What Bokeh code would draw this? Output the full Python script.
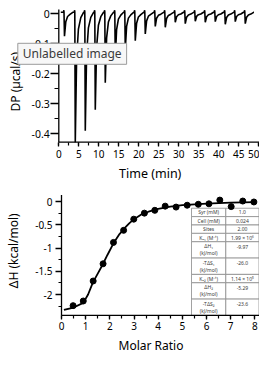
import math
import numpy as np
from bokeh.plotting import figure
from bokeh.layouts import column
from bokeh.models import Range1d, FixedTicker, Label, ColumnDataSource
from bokeh.core.properties import value
from bokeh.embed import file_html
from bokeh.resources import INLINE

# ---------------- data: raw thermogram (top panel) ----------------
inj_time = [1.3, 4.0, 6.5, 9.0, 11.5, 14.0, 16.5, 19.0, 21.5, 24.0,
            26.5, 29.0, 31.5, 34.0, 36.5, 39.0, 41.5, 44.0, 46.5]
inj_depth = [-0.075, -0.428, -0.39, -0.32, -0.23, -0.15, -0.12, -0.09, -0.067, -0.042,
             -0.045, -0.028, -0.033, -0.025, -0.028, -0.026, -0.035, -0.026, -0.033]
trace_start = 0.5
trace_end = 48.8
baseline = 0.005

top_xticks = [0, 5, 10, 15, 20, 25, 30, 35, 40, 45, 50]
top_yticks = [0, -0.1, -0.2, -0.3, -0.4]
top_ylabels = ["0", "-0.1", "-0.2", "-0.3", "-0.4"]

# ---------------- data: integrated heats (bottom panel) ----------------
molar_ratio = [0.48, 0.90, 1.31, 1.72, 2.15, 2.57, 2.99, 3.43, 3.86, 4.29,
               4.74, 5.20, 5.66, 6.10, 6.55, 7.02, 7.50, 7.96]
delta_h = [-2.24, -2.14, -1.71, -1.34, -0.88, -0.62, -0.38, -0.25, -0.19, -0.10,
           -0.12, -0.08, -0.06, -0.05, 0.03, -0.11, 0.01, -0.01]
fit_x = [0.1, 0.5, 0.9, 1.1, 1.3, 1.5, 1.7, 1.9, 2.15, 2.4, 2.6, 2.8, 3.0,
         3.3, 3.6, 4.0, 4.5, 5.0, 5.5, 6.0, 7.0, 8.0]
fit_y = [-2.33, -2.28, -2.18, -2.0, -1.74, -1.55, -1.36, -1.15, -0.9, -0.7, -0.58, -0.47, -0.38,
         -0.28, -0.22, -0.16, -0.11, -0.08, -0.06, -0.045, -0.025, -0.015]

bot_xticks = [0, 1, 2, 3, 4, 5, 6, 7, 8]
bot_yticks = [0, -0.5, -1, -1.5, -2]
bot_ylabels = ["0", "-0.5", "-1", "-1.5", "-2"]

table_params = ["Syr (mM)", "Cell (mM)", "Sites", "K\u2090\u2081 (M\u207b\u00b9)",
                "\u0394H\u2081\n(kJ/mol)", "-T\u0394S\u2081\n(kJ/mol)",
                "K\u2090\u2082 (M\u207b\u00b9)", "\u0394H\u2082\n(kJ/mol)", "-T\u0394S\u2082\n(kJ/mol)"]
table_values = ["1.0", "0.024", "2.00", "1.99 \u00d7 10\u2076", "-9.97", "-26.0",
                "1.14 \u00d7 10\u2075", "-5.29", "-23.6"]

FONT = "Noto Sans"
W = 259
H1 = 182
H2 = 174

# ---------------- layout calibration (pixels) ----------------
# top panel: t=0 at x=58.3 px, 4 px/min ; DP=0 at y=13.3 px, 300 px per unit
TX0, TXS, TY0, TYS = 58.3, 4.0, 13.3, 300.0
# bottom panel: ratio 0 at x=61 px, 24.17 px/unit ; dH=0 at y=19 px, 46.5 px per unit
BX0, BXS, BY0, BYS = 61.0, 24.17, 19.0, 46.5


def tx_(px):
    return (px - TX0) / TXS


def ty_(py):
    return (TY0 - py) / TYS


def bx_(px):
    return (px - BX0) / BXS


def by_(py):
    return (BY0 - py) / BYS


def style_axis(ax, tick_size, major_out, minor_out, s1):
    ax.axis_line_color = None
    ax.major_tick_line_color = "black"
    ax.minor_tick_line_color = "black"
    ax.major_tick_line_width = 1.3
    ax.minor_tick_line_width = 1.2
    ax.major_tick_in = 0
    ax.major_tick_out = major_out
    ax.minor_tick_in = 0
    ax.minor_tick_out = minor_out
    ax.major_label_text_font = FONT
    ax.major_label_text_font_size = tick_size
    ax.major_label_text_color = "black"
    ax.major_label_standoff = s1


def base_fig(h, xr, yr):
    p = figure(width=W, height=h, output_backend="svg", toolbar_location=None,
               x_range=xr, y_range=yr, min_border=0, min_border_left=0,
               min_border_right=0, min_border_top=0, min_border_bottom=0)
    p.outline_line_color = None
    p.xgrid.visible = False
    p.ygrid.visible = False
    p.background_fill_color = "white"
    p.border_fill_color = "white"
    return p


def title_label(x, y, text, size, angle=0.0, align="center"):
    return Label(x=x, y=y, text=text, angle=angle, text_font=FONT, text_font_size=size,
                 text_color="black", text_align=align, text_baseline="middle")


# ================= top panel =================
p1 = base_fig(H1, Range1d(tx_(0), tx_(W)), Range1d(ty_(H1), ty_(0)))
top_axis_y = ty_(141.7)

# axis lines
p1.line([0, 0], [ty_(9), top_axis_y], line_color="black", line_width=1.3)
p1.line([0, tx_(258.7)], [top_axis_y, top_axis_y], line_color="black", line_width=1.3)

xs, ys = [trace_start], [baseline]
for t, d in zip(inj_time, inj_depth):
    xs += [t - 0.12, t - 0.04, t, t + 0.12, t + 0.45, t + 0.9, t + 1.5, t + 2.2]
    ys += [baseline, baseline + 0.007, baseline, d, d * 0.35, d * 0.12, d * 0.03, baseline]
xs.append(trace_end)
ys.append(baseline)
p1.line(xs, ys, line_color="black", line_width=1.6)

p1.xaxis.fixed_location = top_axis_y
p1.yaxis.fixed_location = 0
p1.xaxis.ticker = FixedTicker(ticks=top_xticks, minor_ticks=list(np.arange(0, 50.1, 2.5)))
p1.yaxis.ticker = FixedTicker(ticks=top_yticks, minor_ticks=list(np.arange(0, -0.42, -0.05)))
p1.yaxis.major_label_overrides = {v: s for v, s in zip(top_yticks, top_ylabels)}
style_axis(p1.xaxis[0], "10px", 4, 3, 4)
style_axis(p1.yaxis[0], "10.5px", 8, 4, 1)

p1.add_layout(title_label(tx_(149.7), ty_(172.7), "Time (min)", "12.5px"))
p1.add_layout(title_label(tx_(15.2), ty_(111), "DP (\u00b5cal/s)", "12px",
                          angle=math.pi / 2, align="left"))

tooltip = Label(x=tx_(17.3), y=ty_(53.3), text="Unlabelled image", text_font=FONT,
                text_font_size="12px", text_color="#3a3a3a", text_align="left",
                text_baseline="middle", background_fill_color="#f7f7f7",
                border_line_color="#9a9a9a", border_line_width=1, padding=(5, 2))
p1.add_layout(tooltip)

# ================= bottom panel =================
p2 = base_fig(H2, Range1d(bx_(0), bx_(W)), Range1d(by_(H2), by_(0)))
bot_axis_y = -2.45

# parameter table inside the plot area
t_left, t_mid, t_right = bx_(191), bx_(225.3), bx_(258.5)
t_top = -0.145
n_lines = [1 if "\n" not in s else 1.95 for s in table_params]
unit = (t_top - bot_axis_y) / sum(n_lines)
tops, bots = [], []
cur = t_top
for n in n_lines:
    tops.append(cur)
    cur -= n * unit
    bots.append(cur)
cells = ColumnDataSource(dict(
    left=[t_left] * len(tops) + [t_mid] * len(tops),
    right=[t_mid] * len(tops) + [t_right] * len(tops),
    top=tops + tops, bottom=bots + bots))
p2.quad(left="left", right="right", top="top", bottom="bottom", source=cells,
        fill_color="white", line_color="#8a8a8a", line_width=0.8)
lab_y = [(a + b) / 2 for a, b in zip(tops, bots)]
val_y = [(a + b) / 2 if n == 1 else a - 0.33 * (a - b) for a, b, n in zip(tops, bots, n_lines)]
p2.text(x=[(t_left + t_mid) / 2] * len(tops), y=lab_y, text=table_params,
        text_font=value(FONT), text_font_size="5px", text_color="#3a3a3a",
        text_align="center", text_baseline="middle", text_line_height=1.15)
p2.text(x=[(t_mid + t_right) / 2] * len(tops), y=val_y, text=table_values,
        text_font=value(FONT), text_font_size="5px", text_color="#3a3a3a",
        text_align="center", text_baseline="middle")

# axis lines
p2.line([0, 0], [0.14, bot_axis_y], line_color="black", line_width=1.3)
p2.line([0, bx_(258.8)], [bot_axis_y, bot_axis_y], line_color="black", line_width=1.3)

p2.line(fit_x, fit_y, line_color="black", line_width=1.8)
p2.scatter(molar_ratio, delta_h, size=6, fill_color="black", line_color="black")

p2.xaxis.fixed_location = bot_axis_y
p2.yaxis.fixed_location = 0
p2.xaxis.ticker = FixedTicker(ticks=bot_xticks, minor_ticks=list(np.arange(0, 8.1, 0.5)))
p2.yaxis.ticker = FixedTicker(ticks=bot_yticks, minor_ticks=list(np.arange(0, -2.3, -0.25)))
p2.yaxis.major_label_overrides = {v: s for v, s in zip(bot_yticks, bot_ylabels)}
style_axis(p2.xaxis[0], "10px", 4, 3, 3)
style_axis(p2.yaxis[0], "10px", 6, 3, 3)

p2.add_layout(title_label(bx_(150.5), by_(163), "Molar Ratio", "12px"))
p2.add_layout(title_label(bx_(12.5), -1.06, "\u0394H (kcal/mol)", "12px", angle=math.pi / 2))

layout = column(p1, p2, spacing=0)
open("out.html", "w").write(file_html(layout, INLINE))
